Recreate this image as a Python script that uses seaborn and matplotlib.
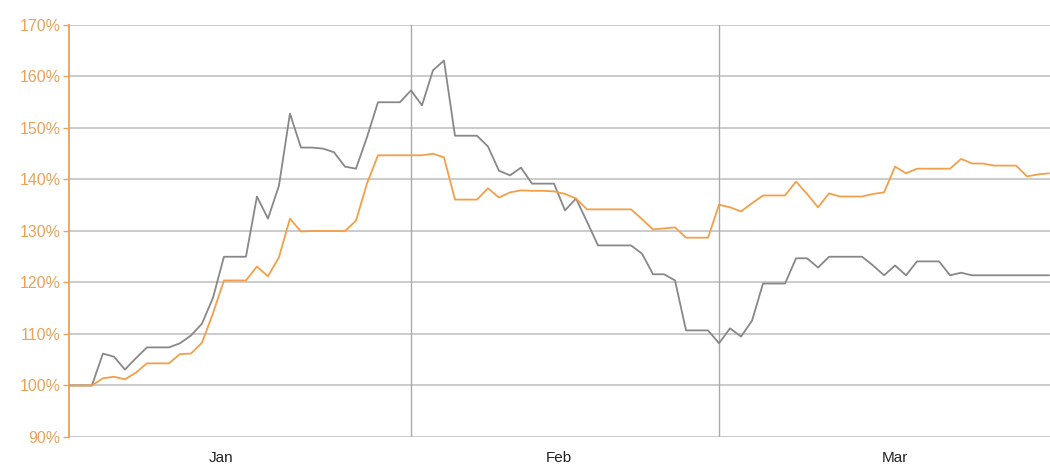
import pandas as pd
import matplotlib
matplotlib.use("Agg")
import matplotlib.pyplot as plt
import matplotlib.ticker as mticker
import seaborn as sns

sns.set_theme(style="white")
plt.rcParams["font.family"] = ["Liberation Sans", "DejaVu Sans"]

# daily values, Jan 1 .. Mar 31 (percent of start)
start_date = "2011-01-01"
gray_values = [
    100, 100, 100, 106.2, 105.6, 103.1, 105.3, 107.4, 107.4, 107.4,
    108.2, 109.7, 112.0, 117.0, 125.0, 125.0, 125.0, 136.7, 132.4, 138.8,
    152.8, 146.2, 146.2, 146.0, 145.3, 142.5, 142.1, 148.2, 155.0, 155.0,
    155.0, 157.3, 154.4, 161.2, 163.1, 148.5, 148.5, 148.5, 146.4, 141.7,
    140.8, 142.3, 139.2, 139.2, 139.2, 134.0, 136.3, 131.8, 127.2, 127.2,
    127.2, 127.2, 125.6, 121.6, 121.6, 120.4, 110.7, 110.7, 110.7, 108.2,
    111.1, 109.5, 112.6, 119.8, 119.8, 119.8, 124.7, 124.7, 122.9, 125.0,
    125.0, 125.0, 125.0, 123.3, 121.4, 123.3, 121.4, 124.1, 124.1, 124.1,
    121.4, 121.9, 121.4, 121.4, 121.4, 121.4, 121.4, 121.4, 121.4, 121.4,
]
orange_values = [
    100, 100, 100, 101.4, 101.7, 101.2, 102.5, 104.3, 104.3, 104.3,
    106.1, 106.2, 108.3, 114.0, 120.4, 120.4, 120.4, 123.1, 121.2, 124.9,
    132.4, 129.9, 130.0, 130.0, 130.0, 130.0, 132.0, 139.2, 144.7, 144.7,
    144.7, 144.7, 144.7, 145.0, 144.3, 136.1, 136.1, 136.1, 138.3, 136.5,
    137.5, 137.9, 137.8, 137.8, 137.7, 137.2, 136.3, 134.2, 134.2, 134.2,
    134.2, 134.2, 132.3, 130.3, 130.5, 130.7, 128.7, 128.7, 128.7, 135.1,
    134.6, 133.8, 135.4, 136.9, 136.9, 136.9, 139.6, 137.2, 134.6, 137.3,
    136.7, 136.7, 136.7, 137.2, 137.5, 142.5, 141.2, 142.1, 142.1, 142.1,
    142.1, 144.0, 143.1, 143.1, 142.7, 142.7, 142.7, 140.6, 141.0, 141.2,
]
month_labels = ["Jan", "Feb", "Mar"]
label_dates = ["2011-01-14 18:00", "2011-02-14 10:00", "2011-03-17 00:00"]
month_starts = ["2011-02-01", "2011-03-01"]
y_ticks = list(range(90, 171, 10))

GRAY = "#888888"
ORANGE = "#f39f48"
AXIS_ORANGE = "#e8a25a"

dates = pd.date_range(start_date, periods=len(gray_values), freq="D")
df = pd.concat([
    pd.DataFrame({"date": dates, "value": gray_values, "series": "gray"}),
    pd.DataFrame({"date": dates, "value": orange_values, "series": "orange"}),
])

fig = plt.figure(figsize=(10.5, 4.69), dpi=100)
ax = fig.add_axes([69 / 1050, 1 - 437 / 469, 981 / 1050, (437 - 25) / 469])

sns.lineplot(data=df, x="date", y="value", hue="series",
             palette={"gray": GRAY, "orange": ORANGE},
             linewidth=1.3, legend=False, ax=ax, zorder=3)

ax.set_xlim(dates[0] - pd.Timedelta(hours=2), dates[-1] + pd.Timedelta(hours=2))
ax.set_ylim(90, 170)
ax.set_xlabel("")
ax.set_ylabel("")

# horizontal grid
ax.set_yticks(y_ticks)
ax.yaxis.set_major_formatter(mticker.FuncFormatter(lambda v, p: f"{v:.0f}%"))
ax.grid(axis="y", color="#c2c2c2", linewidth=1.2, zorder=0)

# month boundaries as major ticks, names as minor ticks
ax.set_xticks(pd.to_datetime(month_starts))
ax.set_xticklabels([])
ax.set_xticks(pd.to_datetime(label_dates, format="%Y-%m-%d %H:%M"), minor=True)
ax.set_xticklabels(month_labels, minor=True)
ax.tick_params(axis="x", which="major", length=10, width=1, color="#b0b0b0", direction="out")
ax.tick_params(axis="x", which="minor", length=0, pad=10, labelsize=11, labelcolor="#222222")
for d in pd.to_datetime(month_starts):
    ax.axvline(d, color="#aaaaaa", linewidth=1, zorder=1)

ax.tick_params(axis="y", length=4, width=1, color=AXIS_ORANGE, labelcolor=AXIS_ORANGE,
               labelsize=11.5, pad=2, left=True)

for side in ["top", "right", "bottom"]:
    ax.spines[side].set_visible(False)
ax.spines["left"].set_color(AXIS_ORANGE)
ax.spines["left"].set_linewidth(1.3)

fig.savefig("out.png", dpi=100, facecolor="white")
